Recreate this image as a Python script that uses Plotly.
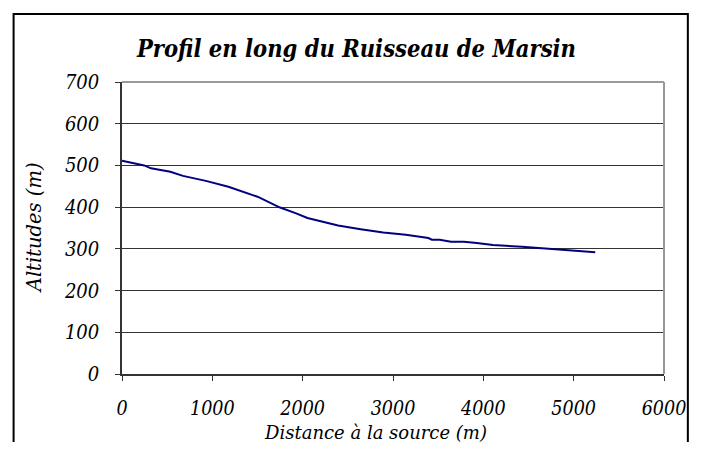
import plotly.graph_objects as go

# Profil en long -- distance from source (m) vs altitude (m)
distance_m = [0, 246, 321, 535, 675, 928, 1178, 1500, 1750, 1857, 1928, 2053,
              2178, 2392, 2642, 2892, 3142, 3285, 3392, 3430, 3517, 3642,
              3785, 3928, 4106, 4428, 4714, 4964, 5239]
altitude_m = [511, 500, 493, 485, 475, 463, 449, 425, 399, 391, 385, 374,
              368, 356, 347, 339, 334, 330, 326, 322, 322, 317,
              317, 314, 309, 305, 300, 296, 292]

x_ticks = [0, 1000, 2000, 3000, 4000, 5000, 6000]
y_ticks = [0, 100, 200, 300, 400, 500, 600, 700]

FONT = "DejaVu Serif"
FONT_COND = "DejaVu Serif Condensed"

fig = go.Figure()
fig.add_trace(go.Scatter(x=distance_m, y=altitude_m, mode="lines",
                         line=dict(color="#000080", width=2),
                         showlegend=False, hoverinfo="x+y"))

fig.update_xaxes(range=[0, 6000], tickvals=x_ticks, ticks="outside", ticklen=5,
                 tickcolor="#333333", showline=True, linecolor="#333333",
                 linewidth=1.5, showgrid=False, zeroline=False,
                 ticklabelstandoff=11, ticklabeloverflow="allow",
                 tickfont=dict(family=FONT_COND, size=19.5, color="black", style="italic"))
fig.update_yaxes(range=[0, 700], tickvals=y_ticks, ticks="outside", ticklen=5,
                 tickcolor="#333333", showline=True, linecolor="#333333",
                 linewidth=1.5, showgrid=True, gridcolor="#333333", gridwidth=1,
                 zeroline=False, ticklabelstandoff=12,
                 tickfont=dict(family=FONT_COND, size=20, color="black", style="italic"))

# gray frame on top/right of the plot area + outer chart border
fig.add_shape(type="line", xref="paper", yref="paper", x0=0, x1=1, y0=1, y1=1,
              line=dict(color="#999999", width=2))
fig.add_shape(type="line", xref="paper", yref="paper", x0=1, x1=1, y0=0, y1=1,
              line=dict(color="#999999", width=2))
fig.add_shape(type="rect", xref="paper", yref="paper",
              x0=-0.2, x1=1.044, y0=-0.4, y1=1.233,
              line=dict(color="black", width=2), layer="below")

# page body has an 8px margin, so the figure is kept inside it
fig.update_layout(
    width=690, height=434,
    margin=dict(l=114, r=21, t=74, b=68),
    paper_bgcolor="white", plot_bgcolor="white",
    title=dict(text="<b><i>Profil en long du Ruisseau de Marsin</i></b>",
               x=0.505, xanchor="center", xref="container",
               y=0.9055, yanchor="middle", yref="container",
               font=dict(family=FONT_COND, size=23.5, color="black")),
    annotations=[
        dict(text="<i>Distance à la source (m)</i>", xref="paper", yref="paper",
             x=0.468, y=-0.2, xanchor="center", yanchor="middle", showarrow=False,
             font=dict(family=FONT, size=18, color="black")),
        dict(text="<i>Altitudes (m)</i>", xref="paper", yref="paper",
             x=-0.162, y=0.5, xanchor="center", yanchor="middle", showarrow=False,
             textangle=-90, font=dict(family=FONT, size=19.5, color="black")),
    ],
)

fig.write_html("out.html")
